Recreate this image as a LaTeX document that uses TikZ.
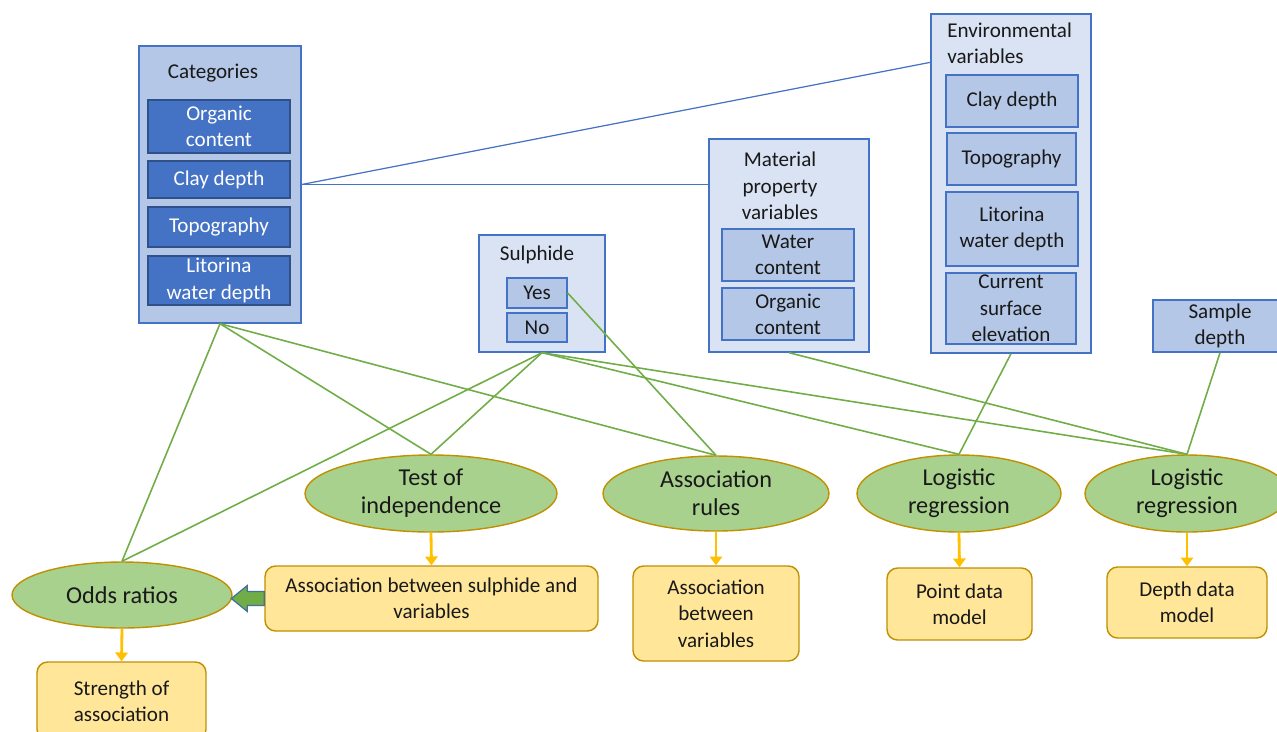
\documentclass[tikz,border=0pt]{standalone}
\usepackage{fontspec}
\setmainfont{Carlito}
\usetikzlibrary{shapes.geometric,arrows.meta,calc}
\definecolor{boxline}{HTML}{4472C4}
\definecolor{darkbox}{HTML}{4472C4}
\definecolor{midbox}{HTML}{B4C7E7}
\definecolor{paleblue}{HTML}{DAE3F3}
\definecolor{leaf}{HTML}{A9D18E}
\definecolor{gold}{HTML}{BF9000}
\definecolor{cream}{HTML}{FFE699}
\definecolor{amber}{HTML}{FFC000}
\definecolor{grass}{HTML}{70AD47}
\definecolor{steel}{HTML}{41719C}
\begin{document}
\begin{tikzpicture}[x=0.02cm, y=-0.02cm,
  txt/.style={font=\fontsize{12}{15}\selectfont, text=black!90, align=center, inner sep=0pt},
  group/.style={draw=boxline, line width=0.8pt, fill=paleblue, minimum width=3.2cm},
  item/.style={txt, draw=boxline, line width=0.8pt, fill=midbox, minimum width=2.64cm, minimum height=1.04cm},
  catitem/.style={txt, draw=boxline!70!black, line width=0.8pt, fill=darkbox, text=white, minimum width=2.84cm},
  method/.style={ellipse, draw=gold, line width=0.8pt, fill=leaf, inner sep=0pt, align=center,
    font=\fontsize{13.8}{16}\selectfont, text=black!90},
  result/.style={txt, rounded corners=6pt, draw=gold, line width=0.8pt, fill=cream},
  link/.style={draw=grass, line width=0.9pt},
  feed/.style={draw=boxline, line width=0.7pt},
  down/.style={draw=amber, line width=1.6pt, -{Triangle[width=7pt,length=5pt]}},
  blockarrow/.style={draw=steel, line width=0.7pt, fill=grass}]
  \clip (0,0) rectangle (1277,731);

  \node[group, fill=midbox, minimum width=3.24cm, minimum height=5.54cm] (cat) at (220,184.5) {};
  \node[txt] (cattitle) at (213,73) {Categories};
  \node[catitem, minimum height=1.06cm] (catorg) at (219,126.5) {Organic\\content};
  \node[catitem, minimum height=0.74cm] (catclay) at (219,179.5) {Clay depth};
  \node[catitem, minimum height=0.8cm] (cattopo) at (219,227) {Topography};
  \node[catitem, minimum height=0.98cm] (catlit) at (219,280.5) {Litorina\\water depth};

  \node[group, minimum width=2.52cm, minimum height=2.34cm] (sul) at (542,293.5) {};
  \node[txt] (sultitle) at (537,255) {Sulphide};
  \node[item, minimum width=1.2cm, minimum height=0.6cm] (yes) at (537,293) {Yes};
  \node[item, minimum width=1.2cm, minimum height=0.58cm] (no) at (537,327.5) {No};

  \node[group, minimum height=4.26cm] (mat) at (789,245.5) {};
  \node[txt] (mattitle) at (780,186) {Material\\property\\variables};
  \node[item] (matwater) at (788,255) {Water\\content};
  \node[item] (matorg) at (788,314) {Organic\\content};

  \node[group, minimum height=6.78cm] (env) at (1011,183.5) {};
  \node[txt, anchor=west, align=left] (envtitle) at (947,43) {Environmental\\variables};
  \node[item] (envclay) at (1012,101) {Clay depth};
  \node[item, minimum width=2.58cm] (envtopo) at (1011.5,159) {Topography};
  \node[item, minimum height=1.48cm] (envlit) at (1012,229) {Litorina\\water depth};
  \node[item, minimum width=2.6cm, minimum height=1.42cm] (envelev) at (1011,308.5) {Current\\surface\\elevation};

  \node[item, minimum width=2.68cm] (sample) at (1220,326) {Sample\\depth};

  \node[method, minimum width=4.4cm, minimum height=1.32cm] (odds) at (122,595) {Odds ratios};
  \node[method, minimum width=5.04cm, minimum height=1.54cm] (indep) at (431,493.5) {Test of\\independence};
  \node[method, minimum width=4.52cm, minimum height=1.5cm] (rules) at (716,493.5) {Association\\rules};
  \node[method, minimum width=4.08cm, minimum height=1.54cm] (lr1) at (959,493.5) {Logistic\\regression};
  \node[method, minimum width=4.08cm, minimum height=1.54cm] (lr2) at (1187,493.5) {Logistic\\regression};

  \node[result, minimum width=3.38cm, minimum height=1.56cm] (strength) at (121.5,701) {Strength of\\association};
  \node[result, minimum width=6.66cm, minimum height=1.3cm] (sulassoc) at (431.5,598.5) {Association between sulphide and\\variables};
  \node[result, minimum width=3.32cm, minimum height=1.9cm] (varassoc) at (716,613.5) {Association\\between\\variables};
  \node[result, minimum width=2.9cm, minimum height=1.44cm] (point) at (959.5,604) {Point data\\model};
  \node[result, minimum width=3.2cm, minimum height=1.42cm] (depth) at (1187,602.5) {Depth data\\model};

  \draw[feed] (cat.east) -- ($(env.north west)+(0,49)$);
  \draw[feed] (cat.east) -- (mat.west |- cat.east);

  \draw[link] (cat.south) -- (odds.north);
  \draw[link] (cat.south) -- (indep.north);
  \draw[link] (cat.south) -- (rules.north);
  \draw[link] (sul.south) -- (odds.north);
  \draw[link] (sul.south) -- (indep.north);
  \draw[link] (sul.south) -- (lr1.north);
  \draw[link] (sul.south) -- (lr2.north);
  \draw[link] (yes.east) -- (rules.north);
  \draw[link] (mat.south) -- (lr2.north);
  \draw[link] (env.south) -- (lr1.north);
  \draw[link] (sample.south) -- (lr2.north);

  \draw[down] (odds.south) -- (strength.north);
  \draw[down] (indep.south) -- (sulassoc.north);
  \draw[down] (rules.south) -- (varassoc.north);
  \draw[down] (lr1.south) -- (point.north);
  \draw[down] (lr2.south) -- (depth.north);

  \draw[blockarrow] (sulassoc.west) ++(0,-7) -- ++(-17,0) -- ++(0,-6) -- ++(-16,13)
    -- ++(16,13) -- ++(0,-6) -- ++(17,0) -- cycle;
\end{tikzpicture}
\end{document}
